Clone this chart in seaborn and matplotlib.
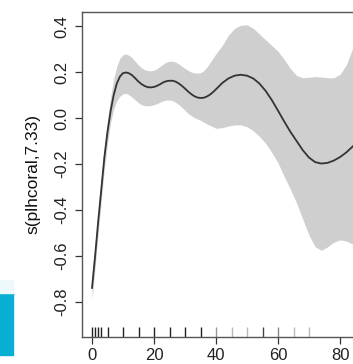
import matplotlib
matplotlib.use("Agg")
import matplotlib.pyplot as plt
import matplotlib.patches as mpatches
import numpy as np
import pandas as pd
import seaborn as sns

# Smooth term s(plhcoral) with its pointwise confidence band
plhcoral = [0, 1, 2, 3, 4, 5, 6, 7, 8, 9, 10, 11, 12, 13, 14, 15, 16, 17, 18, 19,
            20, 21, 22, 23, 24, 25, 26, 27, 28, 29, 30, 31, 32, 33, 34, 35, 36, 37,
            38, 39, 40, 42, 44, 46, 48, 50, 52, 54, 56, 58, 60, 62, 64, 66, 68, 70,
            72, 74, 76, 78, 80, 82, 84, 86]
fit = [-0.74, -0.60, -0.45, -0.31, -0.17, -0.06, 0.03, 0.10, 0.15, 0.18, 0.195,
       0.198, 0.194, 0.185, 0.172, 0.158, 0.147, 0.139, 0.134, 0.133, 0.135, 0.14,
       0.147, 0.155, 0.16, 0.162, 0.162, 0.158, 0.15, 0.14, 0.128, 0.115, 0.104,
       0.095, 0.089, 0.087, 0.088, 0.093, 0.101, 0.112, 0.125, 0.152, 0.172, 0.184,
       0.188, 0.184, 0.172, 0.150, 0.118, 0.078, 0.032, -0.015, -0.06, -0.10, -0.14,
       -0.172, -0.192, -0.198, -0.195, -0.185, -0.170, -0.150, -0.125, -0.10]
upper = [-0.69, -0.55, -0.40, -0.26, -0.12, -0.01, 0.09, 0.17, 0.225, 0.26, 0.275,
         0.278, 0.272, 0.26, 0.245, 0.23, 0.218, 0.21, 0.206, 0.205, 0.208, 0.215,
         0.225, 0.235, 0.243, 0.247, 0.247, 0.243, 0.235, 0.225, 0.215, 0.207, 0.2,
         0.196, 0.195, 0.197, 0.205, 0.22, 0.24, 0.26, 0.28, 0.315, 0.36, 0.39,
         0.403, 0.405, 0.39, 0.365, 0.34, 0.315, 0.29, 0.255, 0.215, 0.185, 0.175,
         0.177, 0.18, 0.178, 0.175, 0.175, 0.19, 0.23, 0.30, 0.37]
lower = [-0.79, -0.65, -0.50, -0.36, -0.22, -0.11, -0.02, 0.04, 0.075, 0.095, 0.105,
         0.107, 0.1, 0.09, 0.078, 0.066, 0.058, 0.054, 0.053, 0.054, 0.058, 0.063,
         0.069, 0.075, 0.078, 0.078, 0.075, 0.068, 0.058, 0.046, 0.033, 0.02, 0.01,
         0.002, -0.004, -0.01, -0.018, -0.025, -0.032, -0.038, -0.045, -0.042,
         -0.035, -0.03, -0.03, -0.038, -0.055, -0.08, -0.11, -0.15, -0.195, -0.255,
         -0.31, -0.37, -0.44, -0.51, -0.56, -0.575, -0.56, -0.54, -0.53, -0.535,
         -0.548, -0.55]

# Observed covariate values shown as a rug
rug_values = [0, 1, 2, 3, 5, 10, 15, 20, 25, 30, 35, 40, 45, 50, 55, 60, 65, 70]
rug_shade = ["#222222"] * 11 + ["#999999", "#bbbbbb", "#bbbbbb", "#444444",
                                "#888888", "#bbbbbb", "#bbbbbb"]

x_ticks = [0, 20, 40, 60, 80]
y_ticks = [-0.8, -0.6, -0.4, -0.2, 0.0, 0.2, 0.4]
y_label = "s(plhcoral,7.33)"

sns.set_theme(style="white")
plt.rcParams["font.family"] = ["Liberation Sans", "DejaVu Sans"]

W, H = 353, 364
fig = plt.figure(figsize=(W / 100, H / 100), dpi=100)

# Plot region in pixels: x from 0 at px 92 with 3.1 px/unit, y 0 at px 118 with 230 px/unit
left_px, top_px, bottom_px = 82, 12, 337
xlo, xhi = -10 / 3.1, 88.0
right_px = 92 + xhi * 3.1
ylo, yhi = -(bottom_px - 118) / 230, (118 - top_px) / 230
ax = fig.add_axes([left_px / W, 1 - bottom_px / H,
                   (right_px - left_px) / W, (bottom_px - top_px) / H])

df = pd.DataFrame({"plhcoral": plhcoral, "fit": fit, "upper": upper, "lower": lower})
ax.fill_between(df["plhcoral"], df["lower"], df["upper"], color="#cfcfcf", lw=0, zorder=1)
sns.lineplot(data=df, x="plhcoral", y="fit", ax=ax, color="#333333", lw=1.3, zorder=3)

for v, c in zip(rug_values, rug_shade):
    sns.rugplot(x=[v], ax=ax, height=0.031, color=c, lw=1.1, clip_on=False)

ax.set_xlim(xlo, xhi)
ax.set_ylim(ylo, yhi)
ax.set_xticks(x_ticks)
ax.set_xticklabels([str(t) for t in x_ticks])
ax.set_yticks(y_ticks)
ax.set_yticklabels([f"{t:.1f}" for t in y_ticks], rotation=90, va="center")
ax.set_xlabel("")
ax.set_ylabel(y_label, fontsize=12.5, color="#111111", labelpad=10)

ax.tick_params(axis="both", which="major", direction="out", length=5, width=0.9,
               color="#333333", labelsize=12, labelcolor="#222222",
               bottom=True, left=True)
ax.tick_params(axis="x", pad=3)
ax.tick_params(axis="y", pad=4)
for side in ["left", "bottom", "top", "right"]:
    ax.spines[side].set_color("#555555")
    ax.spines[side].set_linewidth(1.0)

# Accent bar along the left edge of the figure
fig.patches.append(mpatches.Rectangle((0, 1 - 355 / H), 13 / W, 62 / H,
                                      transform=fig.transFigure,
                                      color="#08afd3", zorder=0))
fig.patches.append(mpatches.Rectangle((0, 1 - 293 / H), 13 / W, 13 / H,
                                      transform=fig.transFigure,
                                      color="#eef8fb", zorder=0))

fig.savefig("out.png", dpi=100)
